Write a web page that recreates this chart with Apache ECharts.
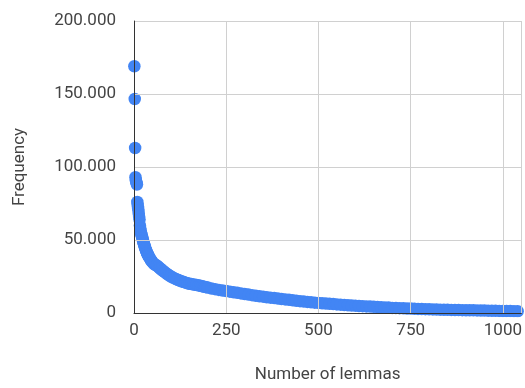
<!DOCTYPE html>
<html>
<head>
<meta charset="utf-8">
<script src="https://cdn.jsdelivr.net/npm/echarts@6/dist/echarts.min.js"></script>
<style>
html,body{margin:0;padding:0;background:#fff;}
#chart{width:525px;height:388px;}
</style>
</head>
<body>
<div id="chart"></div>
<script>
// Rank of each lemma (x) and its frequency (y)
const ranks = [
  1,2,3,4,5,6,7,8,9,10,11,12,13,14,15,16,17,18,19,20,
  21,22,23,24,25,26,27,28,29,30,31,32,33,34,35,36,37,38,39,40,
  42,44,46,48,50,53,56,59,62,65,68,71,74,77,80,84,88,92,96,100,
  105,110,115,120,125,130,135,140,145,150,155,160,165,170,175,180,185,190,195,200,
  210,220,230,240,250,260,270,280,290,300,310,320,330,340,350,360,370,380,390,400,
  410,420,430,440,450,460,470,480,490,500,510,520,530,540,550,560,570,580,590,600,
  610,620,630,640,650,660,670,680,690,700,710,720,730,740,750,760,770,780,790,800,
  810,820,830,840,850,860,870,880,890,900,910,920,930,940,950,960,970,980,990,1000,
  1010,1020,1030,1040
];
const frequencies = [
  169000,146600,113000,93000,91000,90000,89000,88000,76000,74000,72000,70000,68000,66000,64000,60000,58000,56000,55000,54000,
  53000,52000,51000,50000,49000,48000,47200,46400,45600,44800,44000,43300,42600,42000,41400,40800,40200,39700,39200,38700,
  37800,37000,36200,35500,34800,33900,33200,32800,32500,31800,31100,30400,29800,29200,28600,27800,27000,26300,25600,25000,
  24300,23700,23100,22600,22100,21600,21200,20800,20400,20000,19800,19600,19400,19200,18900,18600,18300,18000,17700,17400,
  16800,16300,15800,15400,15000,14600,14200,13800,13400,13000,12600,12200,11800,11500,11200,10800,10500,10200,9900,9600,
  9300,9000,8700,8400,8100,7800,7600,7300,7100,6900,6700,6500,6300,6100,5900,5700,5500,5300,5100,5000,
  4800,4700,4500,4400,4200,4100,3900,3800,3700,3500,3400,3300,3200,3100,3000,2900,2800,2700,2600,2500,
  2450,2400,2300,2250,2200,2100,2050,2000,1950,1900,1850,1800,1750,1700,1650,1600,1550,1500,1450,1400,
  1350,1300,1250,1200
];
const xTitle = 'Number of lemmas';
const yTitle = 'Frequency';

const points = ranks.map((r, i) => [r, frequencies[i]]);
const font = 'Roboto, Arial, sans-serif';

const chart = echarts.init(document.getElementById('chart'), null, {renderer: 'canvas'});
chart.setOption({
  animation: false,
  backgroundColor: '#ffffff',
  grid: {left: 134, right: 0, top: 21, bottom: 71, containLabel: false},
  xAxis: {
    type: 'value', min: 0, max: 1050, interval: 250, z: 4,
    name: xTitle, nameLocation: 'middle', nameGap: 53,
    nameTextStyle: {fontFamily: font, fontSize: 17, color: '#444'},
    axisLine: {show: true, onZero: false, lineStyle: {color: '#333', width: 1}},
    axisTick: {show: false},
    axisLabel: {fontFamily: font, fontSize: 17, color: '#444', margin: 9, showMaxLabel: false,
      formatter: v => String(v)},
    splitLine: {show: true, lineStyle: {color: '#d0d0d0', width: 1}}
  },
  yAxis: {
    type: 'value', min: 0, max: 200000, interval: 50000, z: 4,
    name: yTitle, nameLocation: 'middle', nameGap: 106, nameRotate: 90,
    nameTextStyle: {fontFamily: font, fontSize: 17, color: '#444'},
    axisLine: {show: true, onZero: false, lineStyle: {color: '#333', width: 1}},
    axisTick: {show: false},
    axisLabel: {
      fontFamily: font, fontSize: 17, color: '#444', margin: 18,
      formatter: v => String(v).replace(/\B(?=(\d{3})+(?!\d))/g, '.')
    },
    splitLine: {show: true, lineStyle: {color: '#d0d0d0', width: 1}}
  },
  graphic: [{
    type: 'rect', z: 3, silent: true,
    shape: {x: 135, y: 317.3, width: 390, height: 8},
    style: {fill: '#ffffff'}
  }],
  series: [{
    type: 'scatter',
    data: points,
    symbol: 'circle',
    symbolSize: 12.5,
    clip: false,
    z: 2,
    itemStyle: {color: '#4285F4', opacity: 1}
  }]
});
</script>
</body>
</html>
